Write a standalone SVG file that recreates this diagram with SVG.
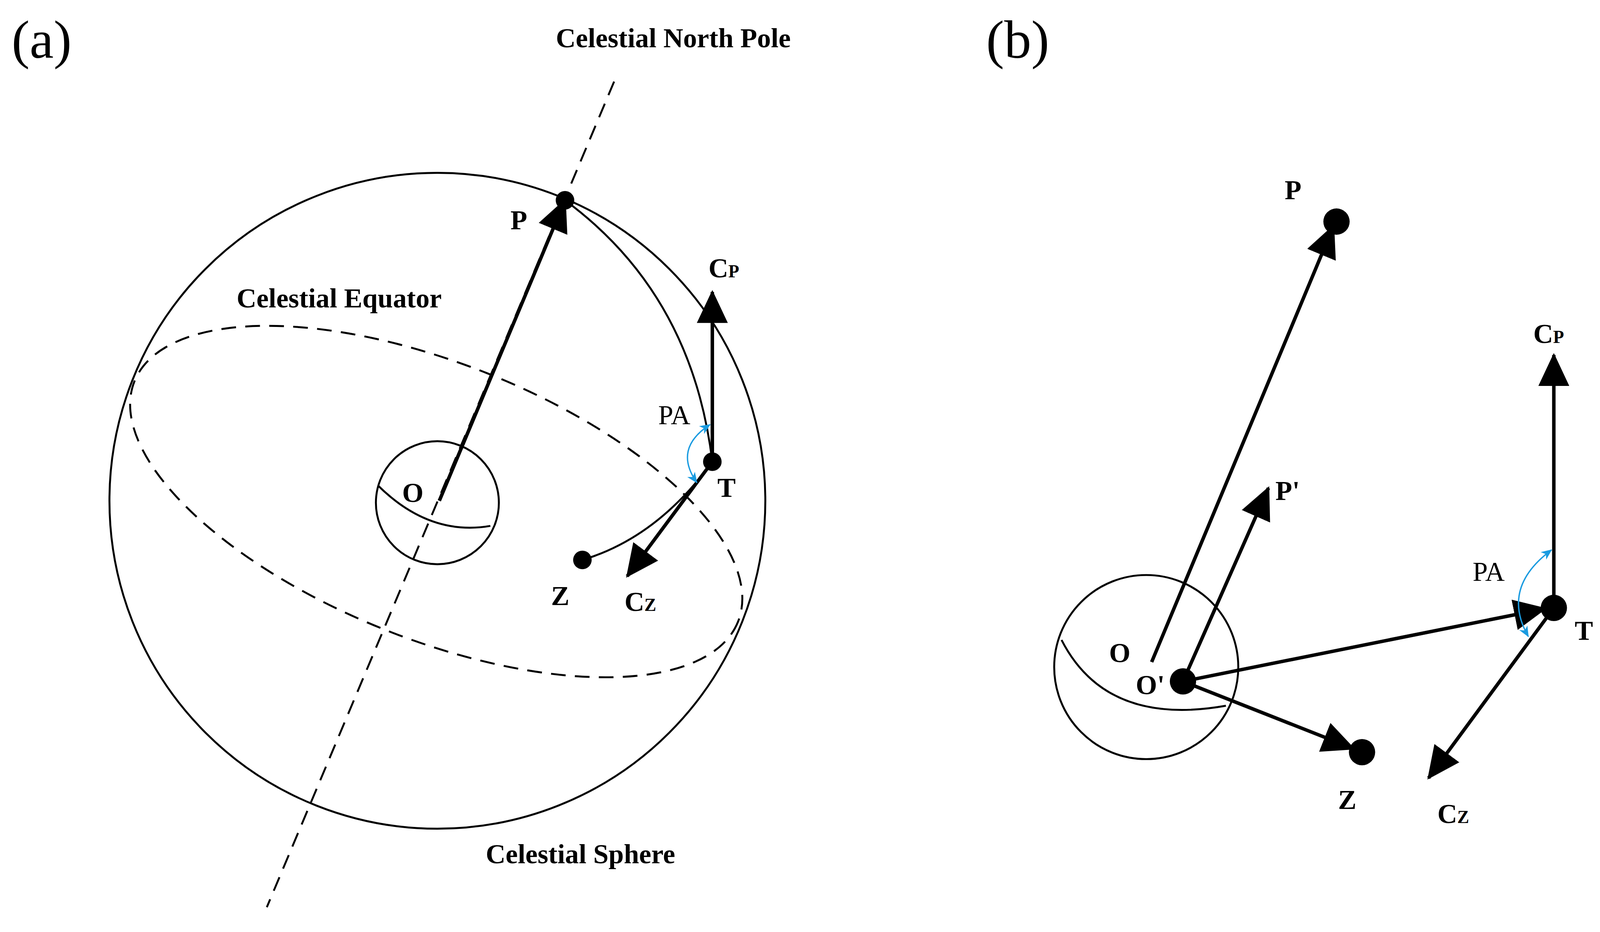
<svg xmlns="http://www.w3.org/2000/svg" width="4142" height="2386" viewBox="0 0 4142 2386">
<style>
.t{font-family:"Liberation Serif",serif;font-weight:bold;font-size:71px;fill:#000}
.r{font-family:"Liberation Serif",serif;font-size:70px;fill:#000}
.thin{fill:none;stroke:#000;stroke-width:5}
.dash{fill:none;stroke:#000;stroke-width:5;stroke-dasharray:38 24}
.arr{fill:none;stroke:#000;stroke-width:9;marker-end:url(#ah)}
.blue{fill:none;stroke:#1a9be0;stroke-width:3.5;marker-start:url(#bh);marker-end:url(#bh)}
</style>
<defs>
<marker id="ah" markerUnits="userSpaceOnUse" markerWidth="90" markerHeight="80" viewBox="0 0 90 80" refX="80" refY="40" orient="auto"><path d="M0,0 L85,40 L0,80 Z" fill="#000"/></marker>
<marker id="bh" markerUnits="userSpaceOnUse" markerWidth="30" markerHeight="30" viewBox="0 0 30 30" refX="26" refY="15" orient="auto-start-reverse"><path d="M0,3 L28,15 L0,27 L8,15 Z" fill="#1a9be0"/></marker>
</defs>
<rect width="4142" height="2386" fill="#fff"/>
<g transform="scale(0.99)">
<text class="r" x="30" y="150" style="font-size:140px">(a)</text>
<text class="r" x="2550" y="150" style="font-size:140px">(b)</text>
<g id="celestial-sphere">
<circle class="thin" cx="1131" cy="1295" r="848"/>
<ellipse class="dash" cx="1128" cy="1297" rx="840" ry="357" transform="rotate(21.7 1128 1297)"/>
<line class="dash" x1="1588" y1="211" x2="690" y2="2346"/>
<text class="t" x="1741" y="122" text-anchor="middle">Celestial North Pole</text>
<text class="t" x="877" y="795" text-anchor="middle">Celestial Equator</text>
<text class="t" x="1501" y="2232" text-anchor="middle">Celestial Sphere</text>
</g>
<g id="earth-a">
<circle class="thin" cx="1131" cy="1300" r="159"/>
<path class="thin" d="M977,1255 Q1110,1387 1268,1360"/>
<text class="t" x="1040" y="1298">O</text>
</g>
<g id="connectors-a">
<line class="arr" x1="1136" y1="1295" x2="1461" y2="518"/>
<path class="thin" d="M1461,518 Q1790,760 1842,1195"/>
<path class="thin" d="M1506,1448 Q1700,1390 1842,1194"/>
<line class="arr" x1="1842" y1="1194" x2="1842" y2="755"/>
<line class="arr" x1="1842" y1="1194" x2="1622" y2="1490"/>
<path class="blue" d="M1836,1098 Q1740,1160 1802,1248"/>
</g>
<g id="P-a"><circle cx="1461" cy="518" r="24"/><text class="t" x="1320" y="593">P</text></g>
<g id="T-a"><circle cx="1842" cy="1194" r="24"/><text class="t" x="1855" y="1285">T</text></g>
<g id="Z-a"><circle cx="1506" cy="1448" r="24"/><text class="t" x="1425" y="1565">Z</text></g>
<g id="Cp-a"><text class="t" x="1832" y="717">C<tspan font-size="46">P</tspan></text></g>
<g id="Cz-a"><text class="t" x="1615" y="1580">C<tspan font-size="46">Z</tspan></text></g>
<g id="PA-a"><text class="r" x="1702" y="1097">PA</text></g>

<g id="earth-b">
<circle class="thin" cx="2964" cy="1725" r="238"/>
<path class="thin" d="M2745,1655 Q2860,1880 3170,1825"/>
<text class="t" x="2868" y="1712">O</text>
</g>
<g id="connectors-b">
<line class="arr" x1="2978" y1="1712" x2="3448" y2="585"/>
<line class="arr" x1="3059" y1="1762" x2="3280" y2="1262"/>
<line class="arr" x1="3059" y1="1762" x2="3995" y2="1574"/>
<line class="arr" x1="3059" y1="1762" x2="3500" y2="1936"/>
<line class="arr" x1="4018" y1="1572" x2="4018" y2="918"/>
<line class="arr" x1="4018" y1="1572" x2="3694" y2="2012"/>
<path class="blue" d="M4012,1422 Q3880,1520 3952,1646"/>
</g>
<g id="P-b"><circle cx="3456" cy="573" r="34"/><text class="t" x="3322" y="515">P</text></g>
<g id="Pp-b"><text class="t" x="3298" y="1293">P'</text></g>
<g id="Op-b"><circle cx="3059" cy="1762" r="34"/><text class="t" x="2937" y="1795">O'</text></g>
<g id="T-b"><circle cx="4018" cy="1572" r="34"/><text class="t" x="4072" y="1655">T</text></g>
<g id="Z-b"><circle cx="3522" cy="1945" r="34"/><text class="t" x="3460" y="2092">Z</text></g>
<g id="Cp-b"><text class="t" x="3965" y="887">C<tspan font-size="46">P</tspan></text></g>
<g id="Cz-b"><text class="t" x="3717" y="2128">C<tspan font-size="46">Z</tspan></text></g>
<g id="PA-b"><text class="r" x="3808" y="1502">PA</text></g>
</g>
</svg>
